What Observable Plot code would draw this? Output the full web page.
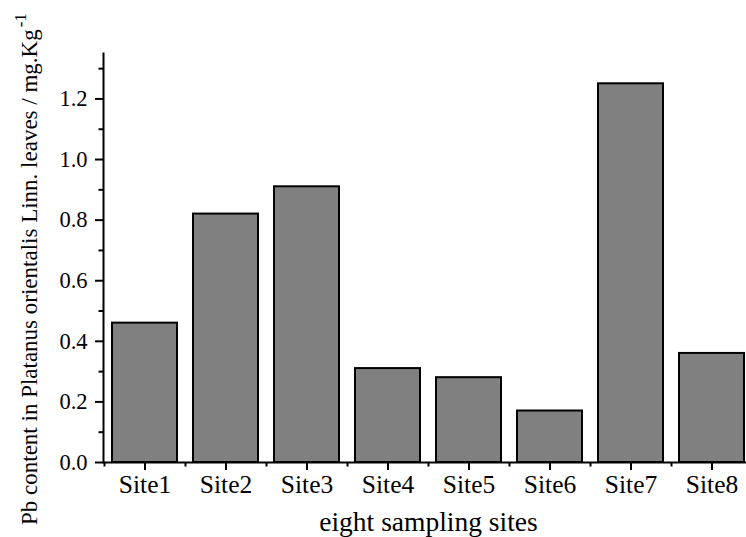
<!DOCTYPE html>
<html>
<head>
<meta charset="utf-8">
<script src="https://cdn.jsdelivr.net/npm/d3@7"></script>
<script src="https://cdn.jsdelivr.net/npm/@observablehq/plot@0.6"></script>
<style>
  html, body { margin: 0; padding: 0; background: #ffffff; }
  #chart { width: 746px; height: 537px; }
</style>
</head>
<body>
<div id="chart"></div>
<script>
const sites = ["Site1", "Site2", "Site3", "Site4", "Site5", "Site6", "Site7", "Site8"];
const pbContent = [0.46, 0.82, 0.91, 0.31, 0.28, 0.17, 1.25, 0.36];
const yMajorTicks = [0.0, 0.2, 0.4, 0.6, 0.8, 1.0, 1.2];
const yMinorTicks = [0.1, 0.3, 0.5, 0.7, 0.9, 1.1, 1.3];
const xTitle = "eight sampling sites";
const yTitle = "Pb content in Platanus orientalis Linn. leaves / mg.Kg";
const yTitleSup = "-1";

const data = sites.map((s, i) => ({site: s, pb: pbContent[i]}));

const FONT = "Liberation Serif";
const xRange = [104, 752];
const step = (xRange[1] - xRange[0]) / sites.length;

const chart = Plot.plot({
  width: 746,
  height: 537,
  marginLeft: 103,
  marginRight: 0,
  marginTop: 53,
  marginBottom: 75,
  style: {color: "black", background: "white", fontFamily: FONT},
  x: {domain: sites, range: xRange, paddingInner: 0.2, paddingOuter: 0.1, label: null},
  y: {domain: [0, 1.35], label: null},
  marks: [
    Plot.barY(data, {x: "site", y: "pb", fill: "#808080", stroke: "black", strokeWidth: 2}),
    Plot.axisY(yMajorTicks, {tickSize: 8, tickPadding: 8, tickFormat: d3.format(".1f"), fontSize: 22.5, strokeWidth: 2, label: null}),
    Plot.axisY(yMinorTicks, {tickSize: 4.5, text: null, strokeWidth: 2, label: null}),
    Plot.axisX({tickSize: 8, tickPadding: 4.5, fontSize: 25.5, strokeWidth: 2, label: null}),
    Plot.axisX({tickSize: 4.5, text: null, strokeWidth: 2, dx: -step / 2, label: null}),
    Plot.ruleY([0], {strokeWidth: 2}),
    Plot.frame({anchor: "left", strokeWidth: 2})
  ]
});

document.getElementById("chart").appendChild(chart);

const svg = d3.select(chart);
svg.attr("font-family", FONT);

svg.append("text")
  .attr("x", 428.5)
  .attr("y", 531)
  .attr("text-anchor", "middle")
  .attr("font-size", 27.5)
  .attr("fill", "black")
  .text(xTitle);

const yt = svg.append("text")
  .attr("transform", "translate(37,525) rotate(-90)")
  .attr("text-anchor", "start")
  .attr("font-size", 23)
  .attr("fill", "black");
yt.append("tspan").text(yTitle);
yt.append("tspan")
  .attr("font-size", 17)
  .attr("dx", 2)
  .attr("dy", -11)
  .text(yTitleSup);

svg.selectAll("g, text, tspan").attr("font-family", FONT);
</script>
</body>
</html>
